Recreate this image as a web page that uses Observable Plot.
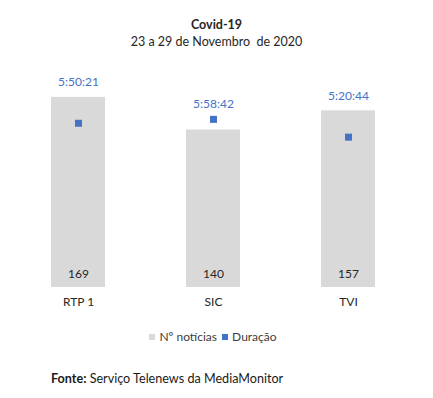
<!DOCTYPE html>
<html><head><meta charset="utf-8">
<script src="https://cdn.jsdelivr.net/npm/d3@7"></script>
<script src="https://cdn.jsdelivr.net/npm/@observablehq/plot@0.6"></script>
<style>
body{margin:0;background:#fff;font-family:Lato,"Open Sans",sans-serif;color:#262626;}
#wrap{position:relative;width:433px;height:398px;overflow:hidden;}
.title{position:absolute;left:0;width:433px;text-align:center;}
#legend{position:absolute;top:329px;left:0;width:426px;text-align:center;font-size:12px;color:#404040;}
#legend span.sw{display:inline-block;width:6px;height:6px;margin-right:4px;vertical-align:1px;}
#fonte{position:absolute;left:51px;top:371px;font-size:12.6px;color:#1a1a1a;}
#chart{position:absolute;top:50px;left:0;}
</style></head>
<body><div id="wrap">
<div class="title" style="top:17px;font-weight:bold;font-size:12.5px;">Covid-19</div>
<div class="title" style="top:34px;font-size:12.5px;">23 a 29 de Novembro&nbsp; de 2020</div>
<div id="chart"></div>
<div id="legend"><span class="sw" style="background:#d9d9d9"></span>Nº notícias <span class="sw" style="background:#4472c4;margin-left:2px"></span>Duração</div>
<div id="fonte"><b>Fonte:</b> Serviço Telenews da MediaMonitor</div>
</div>
<script>
const canais = ["RTP1", "SIC", "TVI"];
const canalLabels = ["RTP 1", "SIC", "TVI"];
const noticias = [169, 140, 157];
const duracoes = ["5:50:21", "5:58:42", "5:20:44"];

const countMax = 200;          // primary axis max
const durMax = 8 * 3600;       // secondary axis max (8:00:00)
const toSec = s => { const [h, m, ss] = s.split(":").map(Number); return h * 3600 + m * 60 + ss; };

const data = canais.map((c, i) => {
  const sec = toSec(duracoes[i]);
  const durY = sec / durMax * countMax;
  return { canal: c, label: canalLabels[i], n: noticias[i], dur: duracoes[i], durY, labelY: Math.max(noticias[i], durY) };
});

const chart = Plot.plot({
  width: 433,
  height: 265,
  marginTop: 12,
  marginBottom: 28,
  marginLeft: 10.5,
  marginRight: 17.5,
  style: { fontFamily: "Lato, 'Open Sans', sans-serif", fontSize: "12px", background: "transparent" },
  x: { domain: canais, paddingInner: 0.6, paddingOuter: 0.3, axis: null },
  y: { domain: [0, countMax], axis: null },
  marks: [
    Plot.barY(data, { x: "canal", y: "n", fill: "#d9d9d9" }),
    Plot.text(data, { x: "canal", y: 0, text: d => String(d.n), dy: -13, fill: "#262626", fontSize: 12 }),
    Plot.dot(data, { x: "canal", y: "durY", symbol: "square", r: 3.95, fill: "#4472c4", stroke: null }),
    Plot.text(data, { x: "canal", y: "labelY", text: "dur", dy: -15, fill: "#4472c4", fontSize: 12 }),
    Plot.text(data, { x: "canal", y: 0, text: "label", dy: 15, fill: "#262626", fontSize: 12 })
  ]
});
document.getElementById("chart").appendChild(chart);
</script>
</body></html>
